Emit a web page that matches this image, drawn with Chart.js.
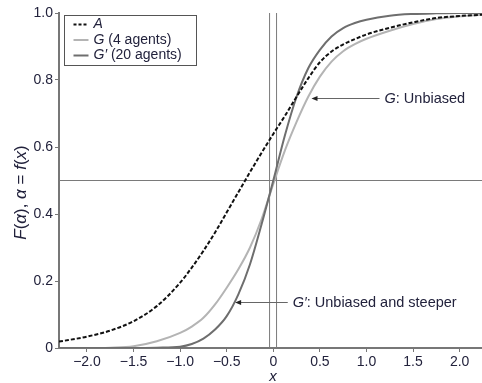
<!DOCTYPE html>
<html>
<head>
<meta charset="utf-8">
<script src="https://cdn.jsdelivr.net/npm/chart.js@4.4.0/dist/chart.umd.min.js"></script>
<style>
html, body { margin: 0; padding: 0; background: #fff; }
#wrap { width: 482px; height: 383px; }
</style>
</head>
<body>
<div id="wrap"><canvas id="cdfChart"></canvas></div>
<script>
// values
const xValues      = [-2.3, -2.0, -1.75, -1.5, -1.25, -1.0, -0.875, -0.75, -0.625, -0.5, -0.375, -0.25, -0.125, 0, 0.125, 0.25, 0.375, 0.5, 0.625, 0.75, 0.875, 1.0, 1.25, 1.5, 1.75, 2.0, 2.25]
const aValues      = [0.019, 0.034, 0.052, 0.08, 0.125, 0.195, 0.24, 0.29, 0.345, 0.405, 0.465, 0.525, 0.583, 0.639, 0.693, 0.75, 0.805, 0.853, 0.885, 0.906, 0.922, 0.936, 0.956, 0.972, 0.985, 0.991, 0.995]
const gValues      = [0, 0, 0.001, 0.005, 0.02, 0.045, 0.064, 0.09, 0.13, 0.18, 0.235, 0.30, 0.385, 0.49, 0.59, 0.675, 0.75, 0.81, 0.855, 0.886, 0.907, 0.923, 0.947, 0.967, 0.982, 0.99, 0.995]
const gPrimeValues = [0, 0, 0, 0, 0.001, 0.004, 0.012, 0.028, 0.055, 0.095, 0.16, 0.25, 0.37, 0.5, 0.635, 0.75, 0.835, 0.89, 0.93, 0.955, 0.97, 0.98, 0.992, 0.997, 0.999, 1.0, 1.0]

const refLinesX = [-0.04, 0.035]
const refLineY = 0.5

const legendItems = [
	{ parts: [['A', true]], color: '#111', dash: [3, 2] },
	{ parts: [['G', true], [' (4 agents)', false]], color: '#b4b4b4', dash: [] },
	{ parts: [['G\u2032', true], [' (20 agents)', false]], color: '#6e6e6e', dash: [] },
]

const notes = [
	{ parts: [['G', true], [': Unbiased', false]], tip: [0.41, 0.745], from: 1.14 },
	{ parts: [['G\u2032', true], [': Unbiased and steeper', false]], tip: [-0.41, 0.137], from: 0.155 },
]

const fontFamily = '"Liberation Sans", Arial, sans-serif'
const textColor = '#22223c'
const axisColor = '#777'

function toPoints(xs, ys) {
	var pts = []
	for (var i = 0; i < xs.length; i++) pts.push({ x: xs[i], y: ys[i] })
	return pts
}

function fmt(v) {
	if (v === 0) return '0'
	return (v < 0 ? '\u2212' : '') + Math.abs(v).toFixed(1)
}

function drawRich(ctx, parts, x, y, size) {
	for (var i = 0; i < parts.length; i++) {
		ctx.font = (parts[i][1] ? 'italic ' : '') + size + 'px ' + fontFamily
		ctx.fillText(parts[i][0], x, y)
		x += ctx.measureText(parts[i][0]).width
	}
	return x
}

function richWidth(ctx, parts, size) {
	var w = 0
	for (var i = 0; i < parts.length; i++) {
		ctx.font = (parts[i][1] ? 'italic ' : '') + size + 'px ' + fontFamily
		w += ctx.measureText(parts[i][0]).width
	}
	return w
}

const extrasPlugin = {
	id: 'extras',
	afterDatasetsDraw(chart) {
		var ctx = chart.ctx
		var xs = chart.scales.x, ys = chart.scales.y
		var area = chart.chartArea
		ctx.save()
		ctx.fillStyle = textColor
		ctx.textBaseline = 'middle'
		ctx.textAlign = 'left'

		// annotations with arrows
		notes.forEach(function (n) {
			var tx = xs.getPixelForValue(n.tip[0])
			var ty = Math.round(ys.getPixelForValue(n.tip[1])) + 0.5
			var fx = xs.getPixelForValue(n.from)
			ctx.strokeStyle = '#666'
			ctx.lineWidth = 1
			ctx.beginPath()
			ctx.moveTo(fx, ty)
			ctx.lineTo(tx + 3, ty)
			ctx.stroke()
			ctx.fillStyle = '#222'
			ctx.beginPath()
			ctx.moveTo(tx, ty)
			ctx.lineTo(tx + 6, ty - 2.5)
			ctx.lineTo(tx + 6, ty + 2.5)
			ctx.closePath()
			ctx.fill()
			ctx.fillStyle = textColor
			drawRich(ctx, n.parts, fx + 5, ty, 14.5)
		})

		// legend box
		var lx = area.left + 5.5, ly = area.top + 2.5
		ctx.strokeStyle = '#555'
		ctx.lineWidth = 1
		ctx.fillStyle = '#fff'
		ctx.fillRect(lx, ly, 132, 50)
		ctx.strokeRect(lx, ly, 132, 50)
		legendItems.forEach(function (item, i) {
			var cy = ly + 9 + i * 15.5
			ctx.strokeStyle = item.color
			ctx.lineWidth = 2
			ctx.setLineDash(item.dash)
			ctx.beginPath()
			ctx.moveTo(lx + 9, cy)
			ctx.lineTo(lx + 24, cy)
			ctx.stroke()
			ctx.setLineDash([])
			ctx.fillStyle = textColor
			drawRich(ctx, item.parts, lx + 29, cy, 14)
		})

		// axis titles
		ctx.fillStyle = textColor
		ctx.textBaseline = 'middle'
		drawRich(ctx, [['x', true]], xs.getPixelForValue(0) - 4, area.bottom + 29, 15)
		var yParts = [['F', true], ['(', false], ['\u03b1', true], ['), ', false], ['\u03b1', true], [' = ', false], ['f', true], ['(', false], ['x', true], [')', false]]
		var w = richWidth(ctx, yParts, 17)
		ctx.translate(21, (area.top + area.bottom) / 2 + 12)
		ctx.rotate(-Math.PI / 2)
		drawRich(ctx, yParts, -w / 2, 0, 17)
		ctx.restore()
	}
}

var refDatasets = refLinesX.map(function (v) {
	return {
		data: toPoints([v, v], [0, 1.0]),
		borderColor: '#7a7a7a', borderWidth: 1, pointRadius: 0, order: 5
	}
})

var ctx = document.getElementById('cdfChart')
var cdfChart = new Chart(ctx, {
	type: 'line',
	data: {
		datasets: refDatasets.concat([
			{
				data: toPoints([-2.3, 2.24], [refLineY, refLineY]),
				borderColor: '#7a7a7a', borderWidth: 1, pointRadius: 0, order: 5
			},
			{
				label: 'G',
				data: toPoints(xValues, gValues),
				borderColor: '#b4b4b4', borderWidth: 2, pointRadius: 0,
				cubicInterpolationMode: 'monotone', order: 3
			},
			{
				label: "G'",
				data: toPoints(xValues, gPrimeValues),
				borderColor: '#6e6e6e', borderWidth: 2, pointRadius: 0,
				cubicInterpolationMode: 'monotone', order: 2
			},
			{
				label: 'A',
				data: toPoints(xValues, aValues),
				borderColor: '#111', borderWidth: 2, borderDash: [4, 2], pointRadius: 0,
				cubicInterpolationMode: 'monotone', order: 1
			},
		])
	},
	options: {
		responsive: true,
		maintainAspectRatio: false,
		animation: false,
		layout: { padding: { top: 13, right: 0, left: 0, bottom: 0 } },
		plugins: { legend: { display: false }, tooltip: { enabled: false } },
		scales: {
			x: {
				type: 'linear', min: -2.3, max: 2.24,
				afterFit: function (s) { s.height = 35 },
				border: { color: axisColor, width: 2 },
				grid: { drawOnChartArea: false, color: axisColor, tickLength: 4 },
				ticks: {
					stepSize: 0.5, includeBounds: false, padding: 2, maxRotation: 0,
					color: textColor, font: { family: fontFamily, size: 14 },
					callback: function (v) { return fmt(v) }
				}
			},
			y: {
				min: 0, max: 1,
				afterFit: function (s) { s.width = 59 },
				border: { color: axisColor, width: 2 },
				grid: { drawOnChartArea: false, color: axisColor, tickLength: 4 },
				ticks: {
					stepSize: 0.2, padding: 2,
					color: textColor, font: { family: fontFamily, size: 14 },
					callback: function (v) { return fmt(v) }
				}
			}
		}
	},
	plugins: [extrasPlugin]
})
</script>
</body>
</html>
